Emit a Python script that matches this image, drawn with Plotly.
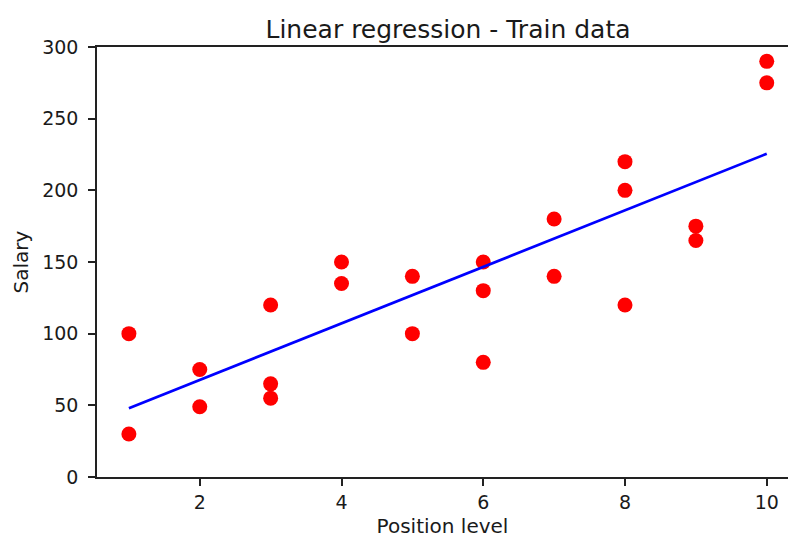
import plotly.graph_objects as go

pos_level = [1, 1, 2, 2, 3, 3, 3, 4, 4, 5, 5, 6, 6, 6, 7, 7, 8, 8, 8, 9, 9, 10, 10]
salary = [100, 30, 75, 49, 120, 65, 55, 150, 135, 140, 100, 150, 130, 80, 180, 140, 220, 200, 120, 175, 165, 290, 275]
line_x = [1, 10]
line_y = [48, 225.5]
x_ticks = [2, 4, 6, 8, 10]
y_ticks = [0, 50, 100, 150, 200, 250, 300]

font = "DejaVu Sans"
txt = "#1a1a1a"

fig = go.Figure()
fig.add_trace(go.Scatter(x=pos_level, y=salary, mode="markers",
                         marker=dict(color="#ff0000", size=15, line=dict(width=0)),
                         showlegend=False))
fig.add_trace(go.Scatter(x=line_x, y=line_y, mode="lines",
                         line=dict(color="#0000ff", width=2.7),
                         showlegend=False))

fig.update_layout(
    width=789, height=538,
    margin=dict(l=97, r=1, t=47, b=61),
    paper_bgcolor="white", plot_bgcolor="white",
    font=dict(family=font, color=txt, size=19),
    title=dict(text="Linear regression - Train data", x=(97 + 799) / 2 / 789, xanchor="center",
               y=1 - 29 / 538, yanchor="middle",
               font=dict(family=font, size=25, color=txt)),
    xaxis=dict(range=[0.55, 10.3], tickvals=x_ticks, ticktext=[str(v) for v in x_ticks],
               showgrid=False, zeroline=False, showline=True, linecolor="#222222",
               linewidth=1.5, mirror=True, ticks="outside", ticklen=7, tickcolor="#222222",
               tickwidth=1.5, tickfont=dict(size=19),
               title=dict(text="Position level", font=dict(size=20), standoff=7)),
    yaxis=dict(range=[0, 300], tickvals=y_ticks, ticktext=[str(v) for v in y_ticks],
               showgrid=False, zeroline=False, showline=True, linecolor="#222222",
               linewidth=1.5, ticks="outside", ticklen=7, tickcolor="#222222",
               tickwidth=1.5, tickfont=dict(size=19), ticklabelstandoff=6,
               title=dict(text="Salary", font=dict(size=20), standoff=8)),
)

fig.write_html("out.html", config={"displayModeBar": False},
               post_script="document.body.style.margin='0';document.body.style.overflow='hidden';")
